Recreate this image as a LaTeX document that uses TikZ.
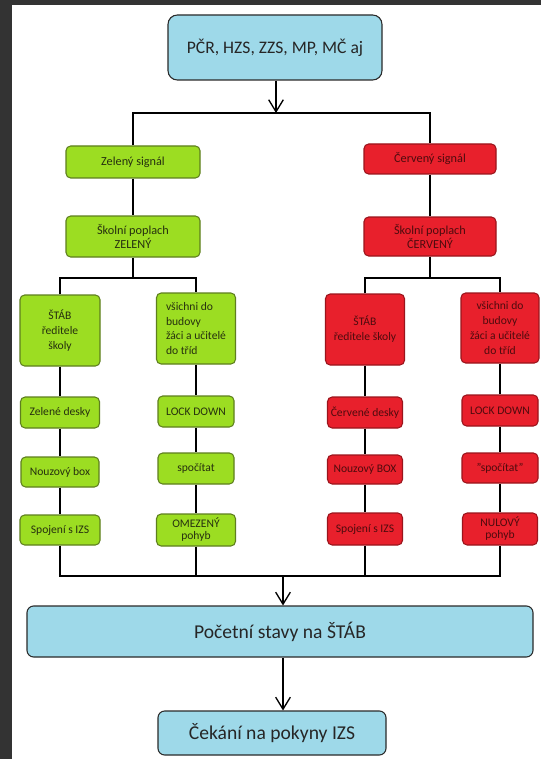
\documentclass[tikz,border=0pt]{standalone}
\usepackage{fontspec}
\setmainfont{Carlito}
\usetikzlibrary{arrows.meta}
\definecolor{framecol}{HTML}{333333}
\definecolor{bluefill}{HTML}{9ED9E9}
\definecolor{greenfill}{HTML}{9CDD22}
\definecolor{redfill}{HTML}{E8202C}
\definecolor{greentext}{HTML}{26300F}
\definecolor{redtext}{HTML}{4E0B0E}
\definecolor{greenedge}{HTML}{5E7F1E}
\definecolor{rededge}{HTML}{9A141C}
\definecolor{blueedge}{HTML}{2A2A2A}
\begin{document}
\begin{tikzpicture}[x=0.75pt,y=-0.75pt,
  sz/.style 2 args={minimum width=#1*0.75pt, minimum height=#2*0.75pt},
  basebox/.style={line width=0.8pt, inner sep=0pt, align=center, rounded corners=3.5pt},
  gbox/.style={basebox, draw=greenedge, fill=greenfill, text=greentext, font=\fontsize{8.7}{11.2}\selectfont},
  rbox/.style={basebox, draw=rededge, fill=redfill, text=redtext, font=\fontsize{8.7}{11.2}\selectfont},
  bbox/.style={basebox, draw=blueedge, fill=bluefill, text=black!85, rounded corners=5pt},
  sigfont/.style={font=\fontsize{9.2}{10.2}\selectfont},
  tight/.style={font=\fontsize{8.7}{9}\selectfont},
  conn/.style={line width=1.5pt, black},
  arr/.style={conn, -{Straight Barb[length=9pt,width=11pt,line width=1pt]}}
]
\useasboundingbox (0,0) rectangle (541,759);
\fill[white] (0,0) rectangle (541,759);
\fill[framecol] (0,0) rectangle (541,5);
\fill[framecol] (0,0) rectangle (12,759);

% top
\node[bbox, sz={214}{65}, rounded corners=7pt, font=\fontsize{13.2}{15}\selectfont] (top) at (275,47.5) {PČR, HZS, ZZS, MP, MČ aj};
\coordinate (topj) at (276,113);

% signals
\node[gbox, sigfont, sz={134}{32}] (gsig) at (133,162) {Zelený signál};
\node[gbox, sigfont, sz={134}{41}] (gpop) at (133,236.5) {Školní poplach\\ZELENÝ};
\node[rbox, sigfont, sz={132}{30}] (rsig) at (430,159) {Červený signál};
\node[rbox, sigfont, sz={132}{39}] (rpop) at (430,236.5) {Školní poplach\\ČERVENÝ};
\coordinate (gsplit) at (133,278);
\coordinate (rsplit) at (430,278);

% green left column
\node[gbox, sz={80}{71}] (gl1) at (60,330.5) {ŠTÁB\\ředitele\\školy};
\node[gbox, sz={79}{31}] (gl2) at (60,412.5) {Zelené desky};
\node[gbox, sz={78}{30}] (gl3) at (60,472) {Nouzový box};
\node[gbox, sz={80}{30}] (gl4) at (60,530) {Spojení s IZS};

% green right column
\node[gbox, sz={79}{71}, align=left] (gr1) at (196,328.5) {všichni do\\budovy\\žáci a učitelé\\do tříd};
\node[gbox, sz={76}{31}] (gr2) at (196,411.5) {LOCK DOWN};
\node[gbox, sz={76}{31}] (gr3) at (196,468.5) {spočítat};
\node[gbox, tight, sz={79}{32}] (gr4) at (196,530) {OMEZENÝ\\pohyb};

% red left column
\node[rbox, sz={79}{71}] (rl1) at (365,329.5) {ŠTÁB\\ředitele školy};
\node[rbox, sz={75}{31}] (rl2) at (365,412.5) {Červené desky};
\node[rbox, sz={75}{29}] (rl3) at (365,469.5) {Nouzový BOX};
\node[rbox, sz={75}{32}] (rl4) at (365,529) {Spojení s IZS};

% red right column
\node[rbox, sz={78}{70}] (rr1) at (500,328) {všichni do\\budovy\\žáci a učitelé\\do tříd};
\node[rbox, sz={76}{31}] (rr2) at (500,410.5) {LOCK DOWN};
\node[rbox, sz={76}{30}] (rr3) at (500,468) {"spočítat"};
\node[rbox, tight, sz={75}{32}] (rr4) at (500,529) {NULOVÝ\\pohyb};

% bottom
\coordinate (bj) at (283,576);
\node[bbox, sz={506}{51}, font=\fontsize{14.7}{16}\selectfont] (big) at (280,631.5) {Početní stavy na ŠTÁB};
\node[bbox, sz={228}{44}, font=\fontsize{14.7}{16}\selectfont] (bot) at (272,733) {Čekání na pokyny IZS};

% connectors
\draw[arr] (top.south -| topj) -- (topj);
\draw[conn] (gsig.north) |- (topj) -| (rsig.north);
\draw[conn] (gsig) -- (gpop);
\draw[conn] (rsig) -- (rpop);
\draw[conn] (gpop.south) -- (gsplit);
\draw[conn] (rpop.south) -- (rsplit);
\draw[conn] (gl1.north) |- (gsplit) -| (gr1.north);
\draw[conn] (rl1.north) |- (rsplit) -| (rr1.north);

\draw[conn] (gl1) -- (gl2); \draw[conn] (gl2) -- (gl3); \draw[conn] (gl3) -- (gl4);
\draw[conn] (gr1) -- (gr2); \draw[conn] (gr2) -- (gr3); \draw[conn] (gr3) -- (gr4);
\draw[conn] (rl1) -- (rl2); \draw[conn] (rl2) -- (rl3); \draw[conn] (rl3) -- (rl4);
\draw[conn] (rr1) -- (rr2); \draw[conn] (rr2) -- (rr3); \draw[conn] (rr3) -- (rr4);

\draw[conn] (gl4.south) |- (bj) -| (rr4.south);
\draw[conn] (gr4.south) -- (gr4.south |- bj);
\draw[conn] (rl4.south) -- (rl4.south |- bj);
\draw[arr] (bj) -- (big.north -| bj);
\draw[arr] (big.south -| bj) -- (bot.north -| bj);
\end{tikzpicture}
\end{document}
